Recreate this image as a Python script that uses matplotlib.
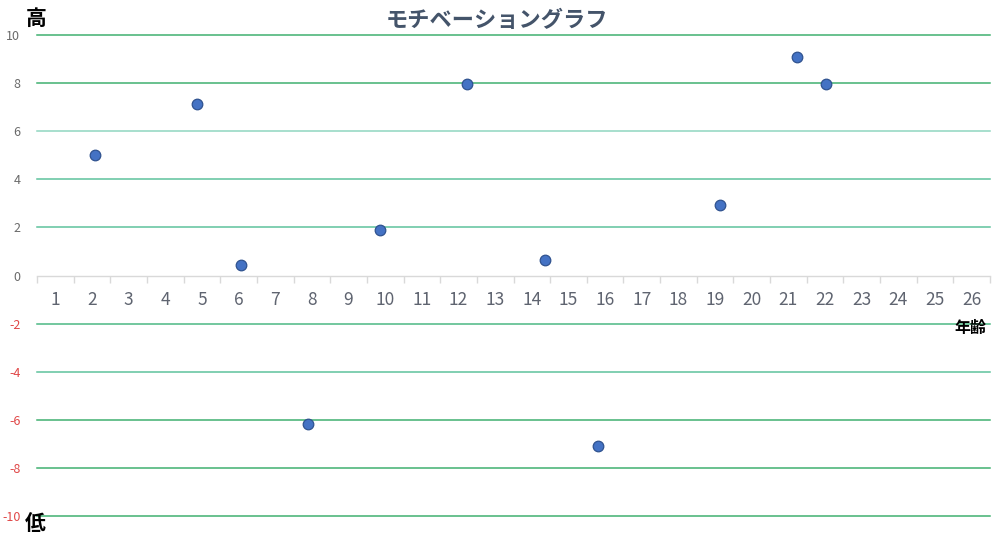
import matplotlib
matplotlib.use("Agg")
import matplotlib.pyplot as plt
from matplotlib.ticker import FixedLocator

plt.rcParams['font.family'] = ['Noto Sans CJK JP', 'DejaVu Sans']

title = "モチベーショングラフ"
age_labels = [str(i) for i in range(1, 27)]
age_x = [2.08, 4.87, 6.07, 7.89, 9.86, 12.23, 14.36, 15.81, 19.14, 21.24, 22.03]
motivation = [5.0, 7.15, 0.45, -6.19, 1.89, 7.95, 0.66, -7.10, 2.94, 9.10, 7.95]
y_ticks = [-10, -8, -6, -4, -2, 0, 2, 4, 6, 8, 10]

fig = plt.figure(figsize=(10, 5.41), dpi=100)
ax = fig.add_axes([0.037, 0.0462, 0.953, 0.8891])

ax.set_xlim(0.5, len(age_labels) + 0.5)
ax.set_ylim(-10, 10)

# gridlines
grid_colors = {10: '#40b070', 8: '#40b070', 6: '#8fd6c0', 4: '#5ec29c', 2: '#5ec29c',
               -2: '#4cb884', -4: '#5ec29c', -6: '#40b070', -8: '#40b070', -10: '#40b070'}
for yv in y_ticks:
    if yv != 0:
        ax.axhline(yv, color=grid_colors[yv], lw=1.1, zorder=1, clip_on=False)

for s in ['top', 'right', 'left']:
    ax.spines[s].set_visible(False)
ax.spines['bottom'].set_position(('data', 0))
ax.spines['bottom'].set_color('#d9d9d9')
ax.spines['bottom'].set_linewidth(1.0)

# x axis: category labels between ticks
ax.xaxis.set_major_locator(FixedLocator(range(1, len(age_labels) + 1)))
ax.set_xticklabels(age_labels, fontsize=12.5, color='#5f6470')
ax.xaxis.set_minor_locator(FixedLocator([i + 0.5 for i in range(0, len(age_labels) + 1)]))
ax.tick_params(axis='x', which='major', length=0, pad=11)
ax.tick_params(axis='x', which='minor', length=5, color='#d9d9d9', width=1.0)

# y axis
ax.set_yticks(y_ticks)
ax.set_yticklabels([str(v) for v in y_ticks], fontsize=9)
ax.tick_params(axis='y', length=0, pad=12)
for lab, v in zip(ax.get_yticklabels(), y_ticks):
    lab.set_color('#e04848' if v < 0 else '#6a6a6a')

ax.scatter(age_x, motivation, s=58, color='#4472c4', edgecolor='#2f528f',
           linewidth=0.9, zorder=3, clip_on=False)

fig.text(0.497, 0.962, title, ha='center', va='center', fontsize=16,
         fontweight='bold', color='#44546a')
fig.text(0.036, 0.966, "高", ha='center', va='center', fontsize=15, fontweight='bold', color='black')
fig.text(0.035, 0.033, "低", ha='center', va='center', fontsize=15, fontweight='bold', color='black')
fig.text(0.970, 0.394, "年齢", ha='center', va='center', fontsize=11.5, fontweight='bold', color='black')

fig.savefig("out.png", dpi=100, facecolor='white')
